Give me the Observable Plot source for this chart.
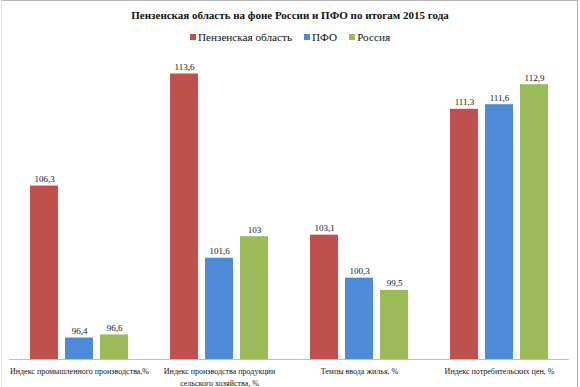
<!DOCTYPE html>
<html>
<head>
<meta charset="utf-8">
<script src="https://cdn.jsdelivr.net/npm/d3@7"></script>
<script src="https://cdn.jsdelivr.net/npm/@observablehq/plot@0.6"></script>
<style>
  html, body { margin: 0; padding: 0; background: #fff; }
  #wrap { position: relative; width: 580px; height: 387px; overflow: hidden; font-family: "Liberation Serif", serif; }
  #frame { position: absolute; left: 1px; top: 0; width: 577px; height: 390px; box-sizing: border-box;
           border-top: 1px solid #b5b5b5; border-right: 1px solid #a8a8a8; border-left: 1px solid #e6e6e6; pointer-events: none; }
  #title { height: 29px; line-height: 30px; text-align: center; font-weight: bold; font-size: 11px; color: #111; }
  #legend { height: 16px; line-height: 16px; text-align: center; font-size: 11.2px; color: #111; }
  .item { display: inline-block; margin: 0 6px; }
  .sw { display: inline-block; width: 6px; height: 6px; margin-right: 2px; vertical-align: 1px; }
  svg { display: block; }
</style>
</head>
<body>
<div id="wrap">
  <div id="title"></div>
  <div id="legend"></div>
  <div id="chart"></div>
  <div id="frame"></div>
</div>
<script>
const titleText = "Пензенская область на фоне России и ПФО по итогам 2015 года";
const categories = [
  "Индекс промышленного производства,%",
  "Индекс производства продукции\nсельского хозяйства, %",
  "Темпы ввода жилья, %",
  "Индекс потребительских цен, %"
];
const series = ["Пензенская область", "ПФО", "Россия"];
const colors = ["#c0504d", "#4f8ad6", "#9bbb59"];
const penza = [106.3, 113.6, 103.1, 111.3];
const pfo = [96.4, 101.6, 100.3, 111.6];
const russia = [96.6, 103, 99.5, 112.9];
const yDomain = [95, 115];

const values = [penza, pfo, russia];
const data = [];
categories.forEach((c, i) => {
  series.forEach((s, j) => data.push({category: c, series: s, value: values[j][i]}));
});
const fmt = v => String(v).replace(".", ",");
const serif = "Liberation Serif, serif";

document.getElementById("title").textContent = titleText;
const legend = document.getElementById("legend");
series.forEach((s, j) => {
  const it = document.createElement("span");
  it.className = "item";
  const sw = document.createElement("span");
  sw.className = "sw";
  sw.style.background = colors[j];
  it.appendChild(sw);
  it.appendChild(document.createTextNode(s));
  legend.appendChild(it);
});

const chart = Plot.plot({
  width: 580,
  height: 342,
  marginLeft: 9,
  marginRight: 11,
  marginTop: 7,
  marginBottom: 28,
  fx: {domain: categories, padding: 0, label: null},
  x: {domain: series, paddingInner: 0.214, paddingOuter: 0.607, axis: null},
  y: {domain: yDomain, axis: null},
  color: {domain: series, range: colors},
  marks: [
    Plot.barY(data, {fx: "category", x: "series", y1: yDomain[0], y2: "value", fill: "series"}),
    Plot.ruleY([yDomain[0]], {stroke: "#bdbdbd", strokeWidth: 1}),
    Plot.text(data, {fx: "category", x: "series", y: "value", text: d => fmt(d.value),
      lineAnchor: "bottom", dy: -4, fontSize: 9, fontFamily: serif, fill: "#111"}),
    Plot.axisFx({anchor: "bottom", tickSize: 0, tickPadding: 6, fontSize: 8, fontFamily: serif, label: null,
      lineHeight: 1.5, fill: "#111"})
  ]
});
document.getElementById("chart").appendChild(chart);
</script>
</body>
</html>
